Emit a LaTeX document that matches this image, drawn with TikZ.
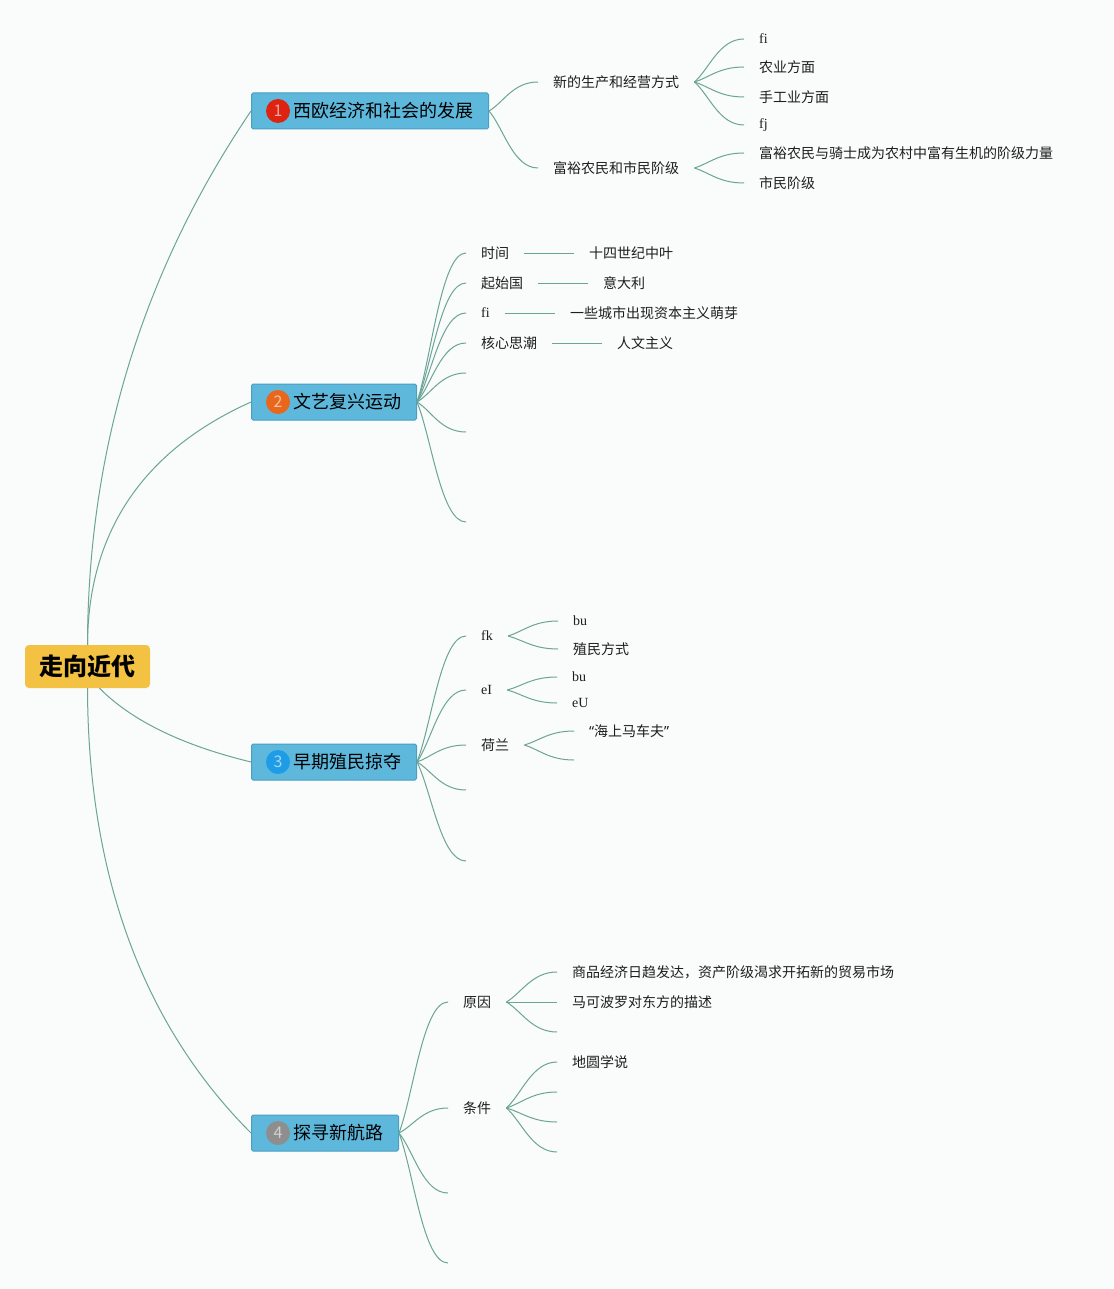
\documentclass[tikz,border=0pt]{standalone}
\usepackage{fontspec}
\setmainfont{Noto Sans CJK SC}
\newfontfamily\lat[Ligatures=CommonOff]{Liberation Serif}
\newfontfamily\qf{Noto Sans}
\usetikzlibrary{calc}
\definecolor{bgc}{HTML}{FAFBFB}
\definecolor{conncol}{HTML}{6AA595}
\definecolor{topicfill}{HTML}{5DB8DC}
\definecolor{topicdraw}{HTML}{4A9FC2}
\definecolor{rootfill}{HTML}{F4C243}
\definecolor{nred}{HTML}{DE2411}
\definecolor{norange}{HTML}{E8671B}
\definecolor{nblue}{HTML}{1F9CE6}
\definecolor{ngray}{HTML}{8E8E8E}
\definecolor{txt}{HTML}{1E1E1E}
\tikzset{
  conn/.style={draw=conncol, line width=1pt},
  leaf/.style={anchor=west, inner xsep=15pt, inner ysep=2pt, text=txt,
    font=\fontsize{14pt}{16pt}\selectfont},
  topic/.style={anchor=west, fill=topicfill, draw=topicdraw, line width=1pt,
    minimum height=36pt, inner xsep=15pt, inner ysep=0pt, rounded corners=1.5pt,
    text=black, font=\fontsize{18pt}{20pt}\selectfont},
  numc/.style={circle, minimum size=24pt, inner sep=0pt, text=white, text opacity=0.6,
    font=\fontsize{16pt}{18pt}\selectfont},
  rootbox/.style={fill=rootfill, rounded corners=4pt, minimum width=125pt,
    minimum height=43pt, inner sep=0pt, text=black,
    font=\fontsize{24pt}{26pt}\selectfont\bfseries}
}
\newcommand\fanto[2]{\draw[conn] (#1) .. controls ($(#1)!0.3!(#2)$) and ($(#2)+(-25,0)$) .. (#2);}
\begin{document}
\begin{tikzpicture}[x=1pt,y=-1pt]
\fill[bgc] (0,0) rectangle (1113,1289);
\useasboundingbox (0,0) rectangle (1113,1289);

% root
\node[rootbox] (root) at (87.5,666.5) {走向近代};

% topics
\node[topic] (t1) at (251,111) {\hspace{27pt}西欧经济和社会的发展};
\node[topic] (t2) at (251,402) {\hspace{27pt}文艺复兴运动};
\node[topic] (t3) at (251,762) {\hspace{27pt}早期殖民掠夺};
\node[topic] (t4) at (251,1133) {\hspace{27pt}探寻新航路};
\node[numc, fill=nred] (n1) at ($(t1.west)+(27,0)$) {1};
\node[numc, fill=norange] (n2) at ($(t2.west)+(27,0)$) {2};
\node[numc, fill=nblue] (n3) at ($(t3.west)+(27,0)$) {3};
\node[numc, fill=ngray] (n4) at ($(t4.west)+(27,0)$) {4};

% root connectors
\draw[conn] (root.north) .. controls (88,447) and (144,269) .. (t1.west);
\draw[conn] (root.north) .. controls (88,531) and (144,450) .. (t2.west);
\draw[conn] ($(root.south)+(12,0)$) .. controls (131,720) and (181,745) .. (t3.west);
\draw[conn] (root.south) .. controls (88,877) and (144,1026) .. (t4.west);

% topic 1
\node[leaf] (a1) at (538,82) {新的生产和经营方式};
\node[leaf] (a2) at (538,168) {富裕农民和市民阶级};
\node[leaf] (a11) at (744,39) {\lat fi};
\node[leaf] (a12) at (744,67) {农业方面};
\node[leaf] (a13) at (744,97) {手工业方面};
\node[leaf] (a14) at (744,125) {\lat fj};
\node[leaf] (a21) at (744,153) {富裕农民与骑士成为农村中富有生机的阶级力量};
\node[leaf] (a22) at (744,183) {市民阶级};
\fanto{t1.east}{a1.west}
\fanto{t1.east}{a2.west}
\fanto{a1.east}{a11.west}
\fanto{a1.east}{a12.west}
\fanto{a1.east}{a13.west}
\fanto{a1.east}{a14.west}
\fanto{a2.east}{a21.west}
\fanto{a2.east}{a22.west}

% topic 2
\node[leaf] (b1) at (466,253) {时间};
\node[leaf] (b1r) at (574,253) {十四世纪中叶};
\node[leaf] (b2) at (466,283) {起始国};
\node[leaf] (b2r) at (588,283) {意大利};
\node[leaf] (b3) at (466,313) {\lat fi};
\node[leaf] (b3r) at (555,313) {一些城市出现资本主义萌芽};
\node[leaf] (b4) at (466,343) {核心思潮};
\node[leaf] (b4r) at (602,343) {人文主义};
\coordinate (b5) at (466,373);
\coordinate (b6) at (466,432);
\coordinate (b7) at (466,522);
\fanto{t2.east}{b1.west}
\fanto{t2.east}{b2.west}
\fanto{t2.east}{b3.west}
\fanto{t2.east}{b4.west}
\fanto{t2.east}{b5}
\fanto{t2.east}{b6}
\fanto{t2.east}{b7}
\draw[conn] (b1.east) -- (b1r.west);
\draw[conn] (b2.east) -- (b2r.west);
\draw[conn] (b3.east) -- (b3r.west);
\draw[conn] (b4.east) -- (b4r.west);

% topic 3
\node[leaf] (c1) at (466,636) {\lat fk};
\node[leaf] (c11) at (558,621) {\lat bu};
\node[leaf] (c12) at (558,649) {殖民方式};
\node[leaf] (c2) at (466,690) {\lat eI};
\node[leaf] (c21) at (557,677) {\lat bu};
\node[leaf] (c22) at (557,703) {\lat eU};
\node[leaf] (c3) at (466,745) {荷兰};
\node[leaf] (c31) at (574,731) {{\qf “}海上马车夫{\qf ”}};
\coordinate (c32) at (574,760);
\coordinate (c4) at (466,790);
\coordinate (c5) at (466,861);
\fanto{t3.east}{c1.west}
\fanto{t3.east}{c2.west}
\fanto{t3.east}{c3.west}
\fanto{t3.east}{c4}
\fanto{t3.east}{c5}
\fanto{c1.east}{c11.west}
\fanto{c1.east}{c12.west}
\fanto{c2.east}{c21.west}
\fanto{c2.east}{c22.west}
\fanto{c3.east}{c31.west}
\fanto{c3.east}{c32}

% topic 4
\node[leaf] (d1) at (448,1002) {原因};
\node[leaf] (d11) at (557,972) {商品经济日趋发达，资产阶级渴求开拓新的贸易市场};
\node[leaf] (d12) at (557,1002) {马可波罗对东方的描述};
\coordinate (d13) at (557,1032);
\node[leaf] (d2) at (448,1108) {条件};
\node[leaf] (d21) at (557,1062) {地圆学说};
\coordinate (d22) at (557,1092);
\coordinate (d23) at (557,1122);
\coordinate (d24) at (557,1152);
\coordinate (d3) at (448,1193);
\coordinate (d4) at (448,1263);
\fanto{t4.east}{d1.west}
\fanto{t4.east}{d2.west}
\fanto{t4.east}{d3}
\fanto{t4.east}{d4}
\fanto{d1.east}{d11.west}
\fanto{d1.east}{d12.west}
\fanto{d1.east}{d13}
\fanto{d2.east}{d21.west}
\fanto{d2.east}{d22}
\fanto{d2.east}{d23}
\fanto{d2.east}{d24}
\end{tikzpicture}
\end{document}
